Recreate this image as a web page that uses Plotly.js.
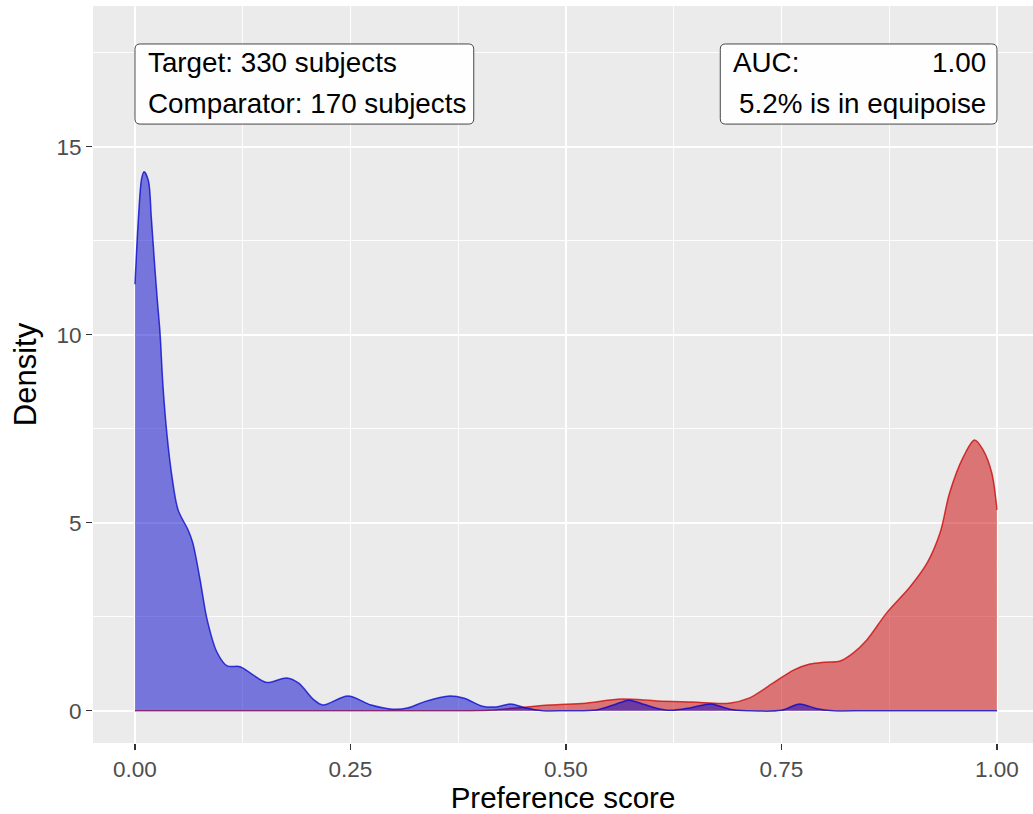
<!DOCTYPE html>
<html>
<head>
<meta charset="utf-8">
<script src="https://cdn.plot.ly/plotly-3.0.1.min.js"></script>
<style>html,body{margin:0;padding:0;background:#fff}</style>
</head>
<body>
<div id="chart" style="width:1033px;height:814px"></div>
<script>
// Comparator (blue) density
const comparatorX = [0, 0.004, 0.0077, 0.0105, 0.0155, 0.019, 0.023, 0.026, 0.029, 0.0325, 0.037, 0.043, 0.050, 0.0615, 0.067, 0.0754, 0.0835, 0.095, 0.107, 0.122, 0.137, 0.153, 0.176, 0.190, 0.207, 0.218, 0.247, 0.274, 0.299, 0.316, 0.336, 0.365, 0.382, 0.403, 0.419, 0.436, 0.452, 0.473, 0.50, 0.535, 0.555, 0.573, 0.59, 0.606, 0.62, 0.645, 0.668, 0.69, 0.71, 0.75, 0.771, 0.79, 0.81, 0.85, 0.9, 0.95, 1.0];
const comparatorY = [11.34, 13.1, 14.15, 14.33, 14.1, 13.1, 11.8, 10.9, 10.07, 8.63, 7.37, 6.21, 5.34, 4.81, 4.47, 3.5, 2.44, 1.56, 1.19, 1.17, 0.95, 0.75, 0.87, 0.73, 0.3, 0.15, 0.39, 0.15, 0.04, 0.07, 0.24, 0.39, 0.33, 0.12, 0.1, 0.18, 0.08, 0.0, 0.0, 0.02, 0.15, 0.28, 0.17, 0.06, 0.01, 0.08, 0.18, 0.04, 0.0, 0.01, 0.18, 0.06, 0.0, 0, 0, 0, 0];
// Target (red) density
const targetX = [0, 0.1, 0.2, 0.3, 0.38, 0.41, 0.44, 0.481, 0.523, 0.564, 0.606, 0.647, 0.689, 0.713, 0.740, 0.764, 0.783, 0.80, 0.818, 0.833, 0.849, 0.872, 0.899, 0.919, 0.934, 0.945, 0.961, 0.974, 0.984, 0.994, 1.0];
const targetY = [0, 0, 0, 0, 0, 0.01, 0.07, 0.15, 0.2, 0.31, 0.26, 0.23, 0.2, 0.34, 0.73, 1.08, 1.24, 1.29, 1.32, 1.53, 1.88, 2.6, 3.29, 3.93, 4.73, 5.79, 6.75, 7.2, 6.93, 6.32, 5.34];
// Tick labels
const xTickVals = [0, 0.25, 0.5, 0.75, 1.0];
const xTickText = ['0.00', '0.25', '0.50', '0.75', '1.00'];
const yTickVals = [0, 5, 10, 15];
const yTickText = ['0', '5', '10', '15'];
// Annotation texts
const leftLines = ['Target: 330 subjects', 'Comparator: 170 subjects'];
const aucLabel = 'AUC:';
const aucValue = '1.00';
const equipoiseText = '5.2% is in equipoise';

const FONT = 'Liberation Sans, Arial, sans-serif';

const traces = [
  {x: targetX, y: targetY, type: 'scatter', mode: 'lines', fill: 'tozeroy',
   fillcolor: 'rgba(204,0,0,0.5)', line: {color: 'rgba(204,0,0,0.75)', width: 1.5, shape: 'spline', smoothing: 0.9},
   name: 'Target', hoverinfo: 'skip'},
  {x: comparatorX, y: comparatorY, type: 'scatter', mode: 'lines', fill: 'tozeroy',
   fillcolor: 'rgba(0,0,204,0.5)', line: {color: 'rgba(0,0,204,0.75)', width: 1.5, shape: 'spline', smoothing: 0.9},
   name: 'Comparator', hoverinfo: 'skip'}
];

function roundedBox(x0, x1, y0, y1) {
  const rx = 0.006, ry = 0.14;
  return `M ${x0+rx},${y0} L ${x1-rx},${y0} Q ${x1},${y0} ${x1},${y0+ry} L ${x1},${y1-ry} Q ${x1},${y1} ${x1-rx},${y1} ` +
         `L ${x0+rx},${y1} Q ${x0},${y1} ${x0},${y1-ry} L ${x0},${y0+ry} Q ${x0},${y0} ${x0+rx},${y0} Z`;
}

const boxStyle = {type: 'path', xref: 'x', yref: 'y', fillcolor: 'rgba(255,255,255,0.92)',
  line: {color: 'rgb(70,70,70)', width: 1}, layer: 'above'};

const annFont = {family: FONT, size: 27.8, color: '#000'};
const layout = {
  width: 1033, height: 814,
  margin: {l: 93, r: 0, t: 6, b: 71},
  paper_bgcolor: '#ffffff', plot_bgcolor: '#EBEBEB',
  showlegend: false,
  font: {family: FONT},
  xaxis: {
    range: [-0.0487, 1.0418], tickvals: xTickVals, ticktext: xTickText,
    ticks: 'outside', ticklen: 6, tickwidth: 1.5, tickcolor: '#333333',
    tickfont: {family: FONT, size: 22.5, color: '#4D4D4D'},
    showgrid: true, gridcolor: '#ffffff', gridwidth: 1.8, zeroline: false, showline: false,
    minor: {tick0: 0.125, dtick: 0.25, showgrid: true, gridcolor: '#ffffff', gridwidth: 0.9, ticks: ''},
    title: {text: 'Preference score', font: {family: FONT, size: 29.5, color: '#000'}, standoff: 9}
  },
  yaxis: {
    range: [-0.86, 18.74], tickvals: yTickVals, ticktext: yTickText,
    ticks: 'outside', ticklen: 6, tickwidth: 1.5, tickcolor: '#333333',
    tickfont: {family: FONT, size: 22.5, color: '#4D4D4D'},
    showgrid: true, gridcolor: '#ffffff', gridwidth: 1.8, zeroline: false, showline: false,
    minor: {tick0: 2.5, dtick: 5, showgrid: true, gridcolor: '#ffffff', gridwidth: 0.9, ticks: ''},
    title: {text: 'Density', font: {family: FONT, size: 31, color: '#000'}, standoff: 10}
  },
  shapes: [
    Object.assign({path: roundedBox(0.0, 0.393, 15.6, 17.73)}, boxStyle),
    Object.assign({path: roundedBox(0.679, 1.0, 15.6, 17.73)}, boxStyle)
  ],
  annotations: [
    {x: 0.0125, y: 17.25, xref: 'x', yref: 'y', text: leftLines[0], showarrow: false, xanchor: 'left', yanchor: 'middle', font: annFont},
    {x: 0.0125, y: 16.16, xref: 'x', yref: 'y', text: leftLines[1], showarrow: false, xanchor: 'left', yanchor: 'middle', font: annFont},
    {x: 0.691, y: 17.25, xref: 'x', yref: 'y', text: aucLabel, showarrow: false, xanchor: 'left', yanchor: 'middle', font: annFont},
    {x: 0.990, y: 17.25, xref: 'x', yref: 'y', text: aucValue, showarrow: false, xanchor: 'right', yanchor: 'middle', font: annFont},
    {x: 0.990, y: 16.16, xref: 'x', yref: 'y', text: equipoiseText, showarrow: false, xanchor: 'right', yanchor: 'middle', font: annFont}
  ]
};

Plotly.newPlot('chart', traces, layout, {displayModeBar: false, staticPlot: true});
</script>
</body>
</html>
